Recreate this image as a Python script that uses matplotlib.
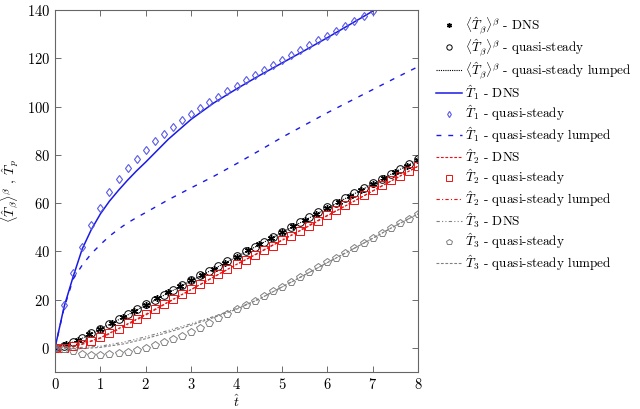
import numpy as np
import matplotlib
matplotlib.use('Agg')
import matplotlib.pyplot as plt

plt.rcParams['font.family'] = ['cmr10', 'DejaVu Serif']
plt.rcParams['mathtext.fontset'] = 'cm'
plt.rcParams['axes.formatter.use_mathtext'] = True
plt.rcParams['font.size'] = 10

# time grids
t_02 = np.round(np.arange(0, 8.001, 0.2), 2)
t_025 = np.arange(0, 8.001, 0.25)
t_05 = np.arange(0, 8.001, 0.5)
t_t1_qs = np.round(np.arange(0, 7.001, 0.2), 2)
t_t1 = [0, 0.2, 0.4, 0.6, 0.8, 1.0, 1.2, 1.4, 1.6, 1.8, 2.0, 2.5, 3.0, 3.5, 4.0,
        4.5, 5.0, 5.5, 6.0, 6.5, 7.0]
t_t1_lumped = [0, 0.2, 0.4, 0.6, 0.8, 1.0, 1.2, 1.4, 1.6, 1.8, 2.0, 2.5, 3.0, 3.5,
               4.0, 4.5, 5.0, 5.5, 6.0, 6.5, 7.0, 7.5, 8.0]

# <T_beta>^beta
tb_dns = [0, 1.4, 3.3, 5.7, 7.9, 10.2, 12.7, 15.2, 17.9, 20.5, 23.1, 25.7, 28.1,
          30.3, 32.7, 35.2, 37.8, 40.4, 42.9, 45.4, 47.9, 50.3, 52.9, 55.4, 57.9,
          60.4, 63.1, 65.5, 68.0, 70.4, 72.8, 75.3, 77.7]
tb_qs = [0, 0.8, 2.3, 4.1, 6.0, 8.0, 10.0, 12.0, 14.0, 16.0, 18.0, 20.0, 22.0, 24.0,
         26.0, 28.0, 30.0, 31.9, 33.9, 35.9, 37.9, 40.0, 42.0, 44.0, 46.0, 48.0,
         50.1, 52.1, 54.1, 56.1, 58.2, 60.2, 62.2, 64.2, 66.2, 68.2, 70.1, 72.1,
         74.1, 76.1, 78.1]
tb_lumped = [0, 3.0, 7.8, 12.6, 17.7, 22.8, 27.8, 32.7, 37.7, 42.7, 47.8, 52.8,
             57.9, 62.9, 67.9, 72.9, 77.9]

# T1
t1_dns = [0, 17, 29.5, 41, 49, 55.5, 60.8, 65.3, 69.5, 73.4, 77.0, 86.5, 94.7,
          101.5, 107.3, 112.8, 118.0, 123.2, 128.5, 134.0, 139.5]
t1_qs = [0, 17.8, 31.2, 42.0, 51.0, 58.1, 64.5, 69.9, 74.5, 78.3, 82.0, 85.7, 88.6,
         91.5, 94.3, 96.9, 99.4, 101.8, 104.0, 106.5, 108.6, 110.9, 113.0, 115.2,
         117.2, 119.4, 121.4, 123.4, 125.4, 127.4, 129.4, 131.4, 133.5, 135.6,
         137.7, 139.6]
t1_lumped = [0, 16.5, 28.5, 34.3, 39.0, 42.8, 46.3, 49.2, 51.8, 54.0, 56.1, 61.4,
             66.3, 71.1, 76.3, 81.7, 87.2, 92.3, 97.4, 102.2, 107.0, 111.8, 116.5]

# T2
t2_dns = [0, 1.1, 4.2, 9.0, 13.9, 19.1, 24.2, 29.4, 34.6, 39.4, 44.5, 49.5, 54.7,
          59.8, 65.0, 70.1, 75.3]
t2_qs = [0, 0.1, 0.8, 1.4, 2.7, 4.4, 6.2, 8.0, 10.1, 12.0, 14.1, 16.3, 18.3, 20.4,
         22.5, 24.4, 26.6, 28.7, 30.6, 32.8, 34.9, 36.6, 38.5, 40.5, 42.4, 44.6,
         46.5, 48.6, 50.6, 52.7, 54.9, 57.0, 59.0, 61.1, 63.2, 65.3, 67.3, 69.4,
         71.3, 73.4, 75.5]
t2_lumped = [0, 0.8, 4.0, 8.6, 13.6, 18.9, 24.1, 29.4, 34.5, 39.6, 44.7, 49.8,
             54.9, 59.9, 65.0, 70.1, 75.2]

# T3
t3_dns = [0, 0.1, 0.7, 2.3, 4.6, 7.2, 10.0, 13.0, 16.3, 20.3, 25.2, 30.2, 35.3,
          40.3, 45.4, 50.6, 55.5]
t3_qs = [0, -0.5, -1.4, -2.4, -2.8, -2.8, -2.5, -2.1, -1.7, -1.0, 0.0, 1.1, 2.5,
         3.6, 5.0, 6.5, 8.3, 10.4, 12.4, 14.2, 16.3, 17.9, 19.6, 21.4, 23.4, 25.3,
         27.2, 29.2, 31.3, 33.4, 35.4, 37.3, 39.3, 41.4, 43.5, 45.5, 47.6, 49.7,
         51.8, 53.5, 55.6]
t3_lumped = [0, -0.4, 0.2, 1.6, 3.8, 6.5, 9.4, 12.6, 16.0, 20.2, 25.2, 30.2, 35.3,
             40.3, 45.4, 50.6, 55.5]

blue = '#1a1ae6'
light_blue = '#5a5ae8'
red = '#ee1111'
grey = '#808080'

fig = plt.figure(figsize=(6.4, 4.09), dpi=100)
ax = fig.add_axes([55/640, 1 - 372/409, 363/640, 362/409])

ax.plot(t_025, tb_dns, ls='none', marker=(6, 2, 0), ms=5, mew=1.0, color='black',
        label=r'$\langle\hat{T}_\beta\rangle^\beta$ - DNS')
ax.plot(t_02, tb_qs, ls='none', marker='o', ms=5.5, mew=0.7, mfc='none', mec='black',
        label=r'$\langle\hat{T}_\beta\rangle^\beta$ - quasi-steady')
ax.plot(t_05, tb_lumped, ls=(0, (1, 1)), lw=0.8, color='black',
        label=r'$\langle\hat{T}_\beta\rangle^\beta$ - quasi-steady lumped')
ax.plot(t_t1, t1_dns, ls='-', lw=1.1, color=blue, label=r'$\hat{T}_1$ - DNS')
ax.plot(t_t1_qs, t1_qs, ls='none', marker='d', ms=4.5, mew=0.8, mfc='none', mec=light_blue,
        label=r'$\hat{T}_1$ - quasi-steady')
ax.plot(t_t1_lumped, t1_lumped, ls=(0, (3.5, 5)), lw=1.0, color=blue,
        label=r'$\hat{T}_1$ - quasi-steady lumped')
ax.plot(t_05, t2_dns, ls=(0, (2.5, 1.5)), lw=0.8, color=red, label=r'$\hat{T}_2$ - DNS')
ax.plot(t_02, t2_qs, ls='none', marker='s', ms=5.5, mew=0.7, mfc='none', mec=red,
        label=r'$\hat{T}_2$ - quasi-steady')
ax.plot(t_05, t2_lumped, ls=(0, (3, 2, 1, 2)), lw=0.8, color=red,
        label=r'$\hat{T}_2$ - quasi-steady lumped')
ax.plot(t_05, t3_dns, ls=(0, (3, 2, 1, 2, 1, 2)), lw=0.8, color=grey,
        label=r'$\hat{T}_3$ - DNS')
ax.plot(t_02, t3_qs, ls='none', marker='p', ms=5.5, mew=0.7, mfc='none', mec=grey,
        label=r'$\hat{T}_3$ - quasi-steady')
ax.plot(t_05, t3_lumped, ls=(0, (2.5, 1.5)), lw=0.8, color=grey,
        label=r'$\hat{T}_3$ - quasi-steady lumped')

ax.set_xlim(0, 8)
ax.set_ylim(-10, 140)
ax.set_xticks(range(0, 9))
ax.set_yticks(range(0, 141, 20))
ax.tick_params(direction='in', top=True, right=True, length=4, width=0.6,
               color='#555555', labelsize=10.5)
for s in ax.spines.values():
    s.set_color('#666666')
    s.set_linewidth(0.8)

ax.set_xlabel(r'$\hat{t}$', fontsize=10, labelpad=1)
ax.set_ylabel(r'$\langle\hat{T}_\beta\rangle^\beta$ , $\hat{T}_p$', fontsize=10)

ax.legend(loc='upper left', bbox_to_anchor=(1.035, 1.0), frameon=False,
          borderaxespad=0, handlelength=2.0, handletextpad=0.2,
          labelspacing=0.14, fontsize=9.5, markerscale=0.7)

fig.savefig('out.png', dpi=100)
